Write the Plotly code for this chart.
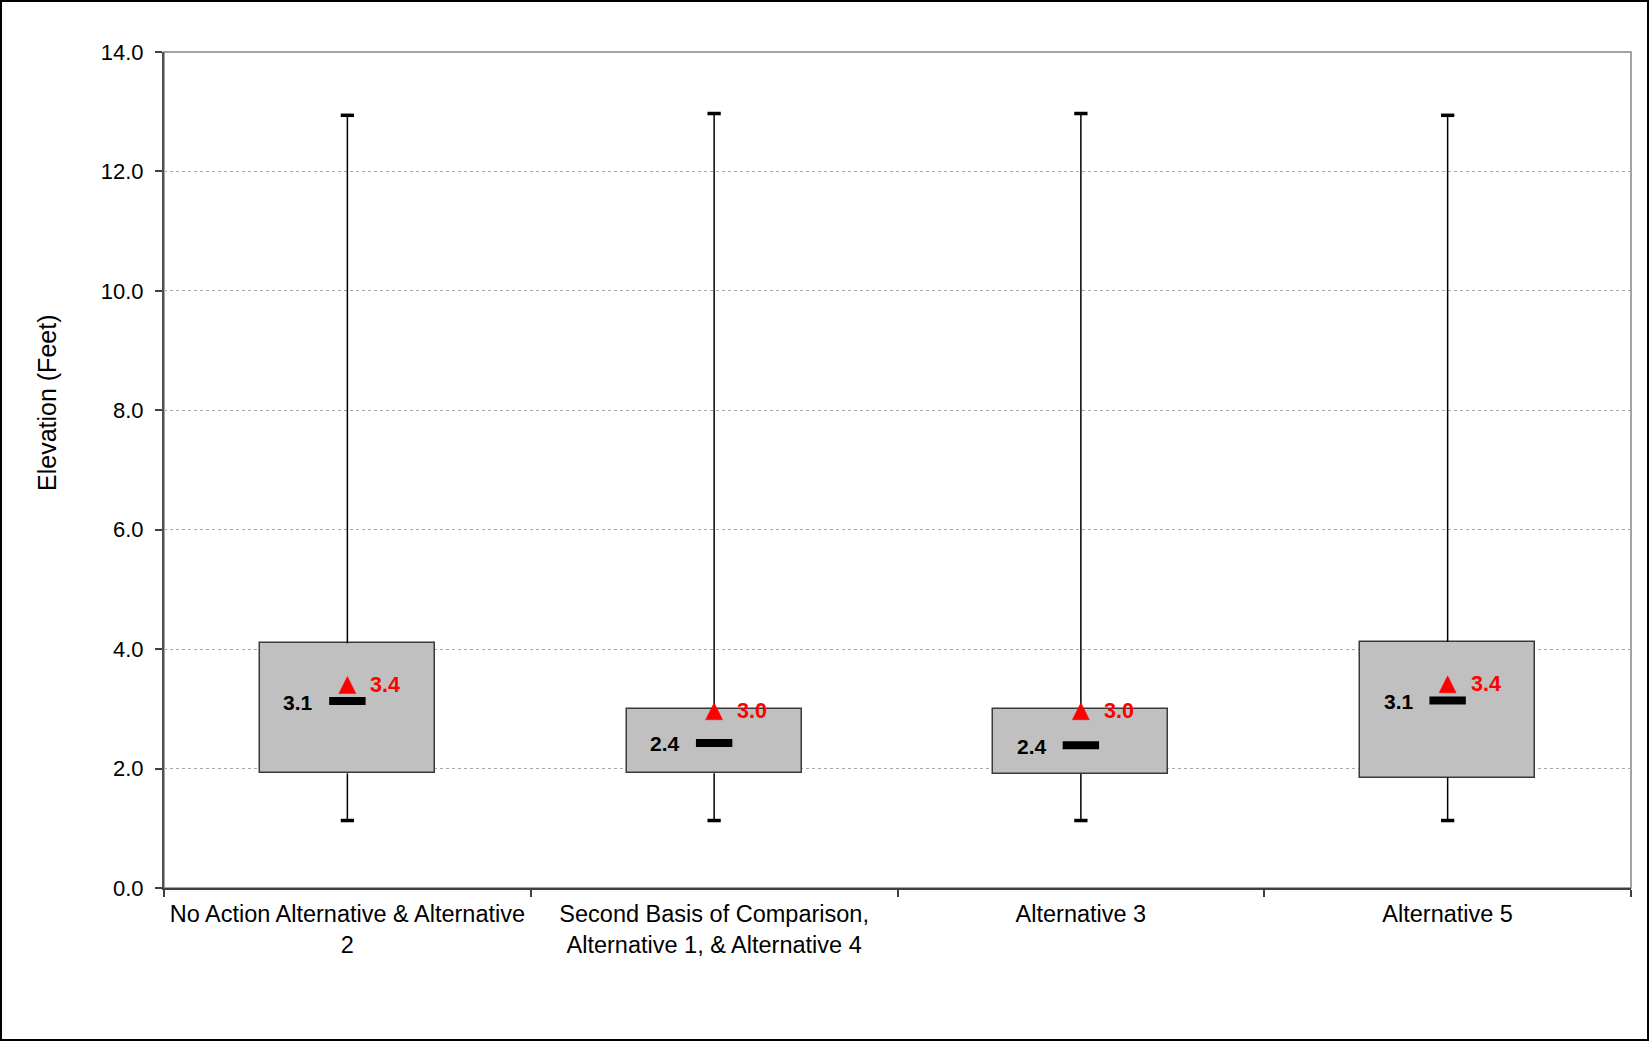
import plotly.graph_objects as go

# ---- data ----
categories = [
    "No Action Alternative & Alternative<br>2",
    "Second Basis of Comparison,<br>Alternative 1, & Alternative 4",
    "Alternative 3",
    "Alternative 5",
]
q1 = [1.92, 1.92, 1.91, 1.85]
q3 = [4.10, 2.99, 2.99, 4.12]
medians = [3.13, 2.43, 2.39, 3.14]
means = [3.40, 2.96, 2.96, 3.41]
lower = [1.13, 1.13, 1.13, 1.13]
upper = [12.94, 12.97, 12.97, 12.94]
y_ticks = [0, 2, 4, 6, 8, 10, 12, 14]

# ---- layout constants ----
W, H = 1650, 1042
ML, MR, MT, MB = 164, 19, 52, 154
PLOT_W = W - ML - MR
PLOT_H = H - MT - MB
Y_MAX = 14
PX_PER_UNIT = PLOT_H / Y_MAX
FONT = "Arial, Liberation Sans, sans-serif"

fig = go.Figure()

# boxes (q1 -> q3)
fig.add_trace(go.Bar(
    x=categories,
    y=[b - a for a, b in zip(q1, q3)],
    base=q1,
    width=0.477,
    marker=dict(color="#C0C0C0", line=dict(color="#3a3a3a", width=1.5)),
    hoverinfo="skip",
    showlegend=False,
))

# whiskers
wx, wy = [], []
for c, lo, a, b, hi in zip(categories, lower, q1, q3, upper):
    wx += [c, c, None, c, c, None]
    wy += [hi, b, None, a, lo, None]
fig.add_trace(go.Scatter(
    x=wx, y=wy, mode="lines",
    line=dict(color="black", width=1.5),
    hoverinfo="skip", showlegend=False,
))

# whisker caps (line-ew length = 1.4 * size)
fig.add_trace(go.Scatter(
    x=categories + categories,
    y=upper + lower,
    mode="markers",
    marker=dict(symbol="line-ew", size=9.5, line=dict(color="black", width=3.5)),
    hoverinfo="skip", showlegend=False,
))

# medians
fig.add_trace(go.Scatter(
    x=categories, y=medians, mode="markers",
    marker=dict(symbol="line-ew", size=26, line=dict(color="black", width=8)),
    hoverinfo="skip", showlegend=False,
))

# means (arrow-up has its tip at the point; shift so the triangle is centred)
TRI = 17
fig.add_trace(go.Scatter(
    x=categories,
    y=[m + (TRI / 2) / PX_PER_UNIT for m in means],
    mode="markers",
    marker=dict(symbol="arrow-up", size=TRI, color="#FF0000",
                line=dict(color="#FF0000", width=0.5)),
    hoverinfo="skip", showlegend=False,
))

annotations = []
for c, md, mn in zip(categories, medians, means):
    annotations.append(dict(
        x=c, y=md, xref="x", yref="y", text=f"<b>{md:.1f}</b>",
        showarrow=False, xshift=-49, yshift=-1,
        font=dict(family=FONT, size=21, color="black"),
    ))
    annotations.append(dict(
        x=c, y=mn, xref="x", yref="y", text=f"<b>{mn:.1f}</b>",
        showarrow=False, xshift=38,
        font=dict(family=FONT, size=21.5, color="#FF0000"),
    ))

# y axis title
annotations.append(dict(
    x=(47 - ML) / PLOT_W, y=(H - MB - 403) / PLOT_H,
    xref="paper", yref="paper", text="Elevation (Feet)", textangle=-90,
    showarrow=False, xanchor="center", yanchor="middle",
    font=dict(family=FONT, size=25, color="black"),
))

shapes = [
    # plot-area frame
    dict(type="rect", xref="paper", yref="paper", x0=0, y0=0, x1=1, y1=1,
         line=dict(color="#858585", width=1.5), layer="below"),
    # outer chart border
    dict(type="rect", xref="paper", yref="paper",
         x0=(1 - ML) / PLOT_W, x1=(W - 2 - ML) / PLOT_W,
         y0=(H - MB - (H - 2)) / PLOT_H, y1=(H - MB - 1) / PLOT_H,
         line=dict(color="black", width=2)),
]

fig.update_layout(
    width=W, height=H,
    margin=dict(l=ML, r=MR, t=MT, b=MB, autoexpand=False),
    paper_bgcolor="white", plot_bgcolor="white",
    font=dict(family=FONT, color="black"),
    annotations=annotations, shapes=shapes,
    showlegend=False, bargap=0,
)

fig.update_xaxes(
    type="category", range=[-0.5, 3.5],
    showgrid=False, showline=True, linecolor="#404040", linewidth=2,
    ticks="outside", tickson="boundaries", ticklen=7, tickcolor="#404040", tickwidth=1.5,
    ticklabelstandoff=4,
    tickfont=dict(family=FONT, size=23.5, color="black"),
    zeroline=False,
)
fig.update_yaxes(
    range=[0, Y_MAX], tickvals=y_ticks, ticktext=[f"{v:.1f}" for v in y_ticks],
    showgrid=True, gridcolor="#a8a8a8", griddash="dot", gridwidth=1,
    showline=True, linecolor="#505050", linewidth=2,
    ticks="outside", ticklen=7, tickcolor="#404040", tickwidth=1.5,
    ticklabelstandoff=7,
    tickfont=dict(family=FONT, size=22, color="black"),
    zeroline=False,
)

fig.write_html("out.html", config={"displayModeBar": False},
               post_script="document.body.style.margin='0';")
